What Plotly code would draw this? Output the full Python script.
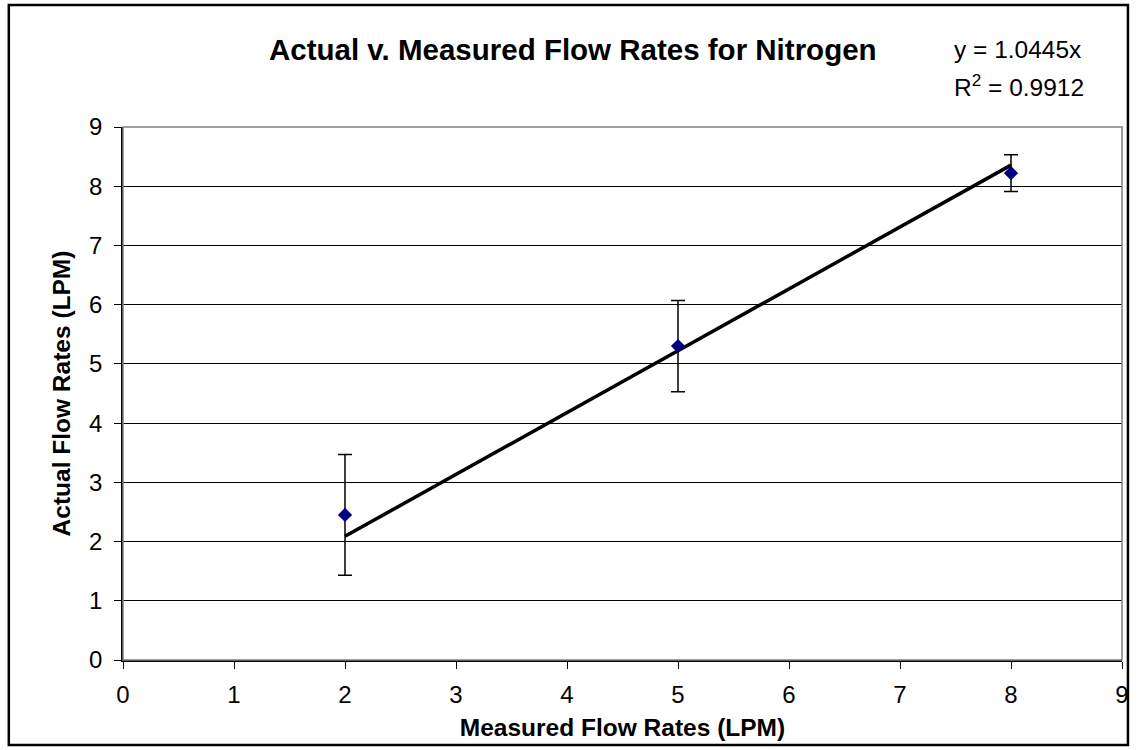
import plotly.graph_objects as go

# Data
measured = [2, 5, 8]
actual = [2.45, 5.30, 8.22]
actual_err = [1.02, 0.77, 0.31]
slope = 1.0445
r2 = 0.9912
trend_x = [2, 8]
tick_vals = list(range(0, 10))

W, H = 1138, 750
L, R, T, B = 123, 1129, 127, 660  # plot area pixel edges

def px_x(px):
    return (px - L) / (R - L)

def px_y(py):
    return (B - py) / (B - T)

FONT = "Arial, Liberation Sans, sans-serif"

fig = go.Figure()

fig.add_trace(go.Scatter(
    x=trend_x, y=[slope * v for v in trend_x], mode="lines",
    line=dict(color="black", width=3.5), showlegend=False, hoverinfo="skip"))

fig.add_trace(go.Scatter(
    x=measured, y=actual, mode="markers",
    marker=dict(symbol="diamond", size=11, color="#000080"),
    error_y=dict(type="data", array=actual_err, visible=True,
                 color="black", thickness=1.5, width=7),
    showlegend=False))

axis_common = dict(
    range=[0, 9], tickvals=tick_vals, ticks="outside", ticklen=7,
    tickcolor="black", tickwidth=1, showline=True, linecolor="black",
    linewidth=1.5, zeroline=False,
    tickfont=dict(family=FONT, size=24, color="black"),
)

fig.update_xaxes(**axis_common, showgrid=False, ticklabelstandoff=5,
                 title=dict(text="<b>Measured Flow Rates (LPM)</b>",
                            font=dict(family=FONT, size=24.5, color="black"),
                            standoff=12))
fig.update_yaxes(**axis_common, showgrid=True, gridcolor="black", gridwidth=1,
                 ticklabelstandoff=7,
                 title=dict(text="<b>Actual Flow Rates (LPM)</b>",
                            font=dict(family=FONT, size=24.5, color="black"),
                            standoff=12))

shapes = [
    # plot area border (gray, top/right)
    dict(type="rect", xref="paper", yref="paper", x0=0, x1=1, y0=0, y1=1,
         line=dict(color="#808080", width=1.5), layer="above"),
    # outer chart border
    dict(type="rect", xref="paper", yref="paper",
         x0=px_x(8), x1=px_x(1135), y0=px_y(745), y1=px_y(5),
         line=dict(color="black", width=2.5), layer="above"),
]

annotations = [
    dict(text="<b>Actual v. Measured Flow Rates for Nitrogen</b>",
         xref="paper", yref="paper", x=px_x(268), y=px_y(50),
         xanchor="left", yanchor="middle", showarrow=False,
         font=dict(family=FONT, size=29.5, color="black")),
    dict(text=f"y = {slope}x", xref="paper", yref="paper",
         x=px_x(958), y=px_y(50), xanchor="left", yanchor="middle",
         showarrow=False, font=dict(family=FONT, size=24.5, color="black")),
    dict(text=f"R<sup>2</sup> = {r2}", xref="paper", yref="paper",
         x=px_x(958), y=px_y(85), xanchor="left", yanchor="middle",
         showarrow=False, font=dict(family=FONT, size=24.5, color="black")),
]

fig.update_layout(
    width=W, height=H,
    margin=dict(l=L, r=W - R, t=T, b=H - B, pad=0),
    paper_bgcolor="white", plot_bgcolor="white",
    shapes=shapes, annotations=annotations,
    font=dict(family=FONT, color="black"),
)

fig.write_html("out.html",
               config={"displayModeBar": False},
               post_script="document.body.style.margin='0';")
